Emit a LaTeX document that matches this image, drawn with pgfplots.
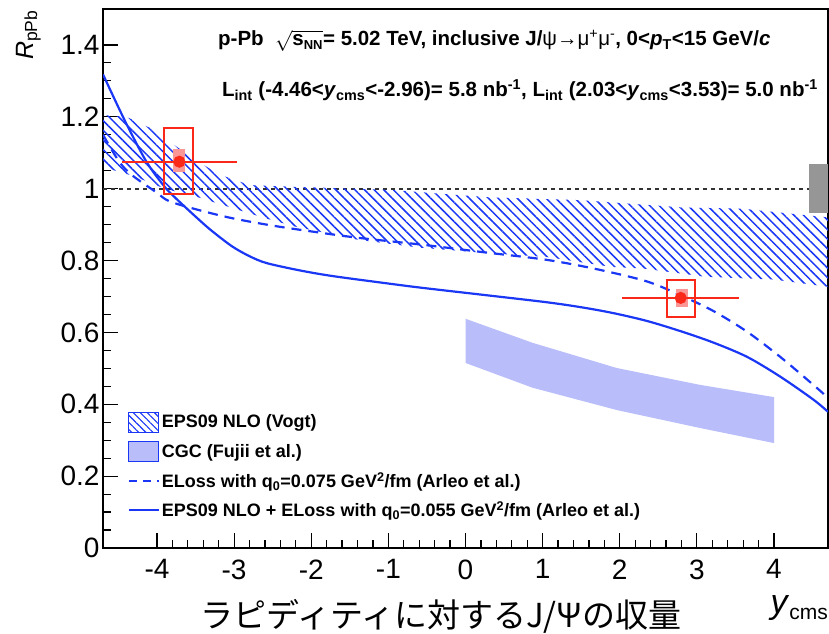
\documentclass[border=0pt]{standalone}
\usepackage{pgfplots}
\pgfplotsset{compat=1.18}
\usepackage{fontspec}
\setmainfont{Liberation Sans}
\newfontfamily\cjk{Noto Sans CJK JP}
\usetikzlibrary{patterns.meta}
\definecolor{lblue}{RGB}{25,55,245}
\definecolor{cgcfill}{RGB}{185,190,250}
\definecolor{rred}{RGB}{250,40,25}
\definecolor{rpink}{RGB}{250,150,150}
\definecolor{dgray}{RGB}{50,50,50}
\definecolor{gbox}{RGB}{150,150,150}

\begin{document}
\begin{tikzpicture}[x=1pt,y=1pt]
\useasboundingbox (0,0) rectangle (829,633);
\begin{axis}[
  at={(103pt,85pt)}, anchor=south west,
  scale only axis, width=725pt, height=539pt,
  xmin=-4.7, xmax=4.7, ymin=0, ymax=1.5,
  xtick={-4,-3,-2,-1,0,1,2,3,4}, minor x tick num=4,
  ytick={0,0.2,0.4,0.6,0.8,1,1.2,1.4}, minor y tick num=3,
  tick align=inside, tick pos=left,
  major tick length=15pt, minor tick length=8pt,
  every tick/.style={black, line width=1.2pt},
  axis line style={line width=1.3pt, black},
  tick label style={font=\fontsize{28}{28}\selectfont},
  xticklabel style={yshift=-8pt},
  /pgf/number format/assume math mode=true,
  legend style={at={(0.03,0.257)}, anchor=north west, draw=none, fill=none,
    font=\fontsize{18}{18}\selectfont\bfseries, row sep=8.5pt,
    nodes={inner sep=2pt}},
  legend cell align=left,
]
% dotted line at 1
\addplot[dgray, line width=2pt, dash pattern=on 4pt off 4pt, forget plot] coordinates {(-4.7,1) (4.45,1)};
% EPS09 NLO (Vogt) band
\addplot[pattern={Lines[angle=-45,distance=6.8pt,line width=1.5pt]}, pattern color=lblue, draw=none,
  legend image code/.code={\draw[pattern={Lines[angle=-45,distance=5pt,line width=1.1pt]}, pattern color=lblue, draw=lblue, line width=1pt] (0pt,-10pt) rectangle (30pt,10pt);}]
  coordinates {(-4.7,1.205) (-4.4,1.2) (-4.1,1.17) (-3.9,1.14) (-3.5,1.08) (-3.2,1.04) (-2.8,1.01) (-2.2,1.005) (-1.0,0.997) (0.3,0.976) (1.5,0.968) (2.8,0.948) (3.6,0.944) (4.7,0.92)
   (4.7,0.727) (4.0,0.747) (3.1,0.755) (2.3,0.778) (1.9,0.782) (1.05,0.81) (0.2,0.822) (-0.6,0.836) (-1.4,0.858) (-2.2,0.894) (-2.6,0.918) (-3.2,0.958) (-3.45,0.975) (-3.9,1.0) (-4.3,1.035) (-4.7,1.06)} -- cycle;
\addlegendentry{EPS09 NLO (Vogt)}
% CGC band
\addplot[fill=cgcfill, draw=none,
  legend image code/.code={\draw[fill=cgcfill, draw=lblue, line width=1pt] (0pt,-10pt) rectangle (30pt,10pt);}]
  coordinates {(0,0.638) (0.87,0.571) (1.96,0.501) (3.04,0.454) (4,0.42) (4,0.292) (3.04,0.334) (1.96,0.384) (0.87,0.446) (0,0.515)} -- cycle;
\addlegendentry{CGC (Fujii et al.)}
% ELoss dashed
\addplot[lblue, line width=2.2pt, dash pattern=on 10pt off 7pt, smooth,
  legend image code/.code={\draw[lblue, line width=2pt, dash pattern=on 8pt off 6pt] (0pt,0pt) -- (30pt,0pt);}]
  coordinates {(-4.7,1.15) (-4.49,1.075) (-4.32,1.037) (-4.01,0.99) (-3.84,0.965) (-3.45,0.94) (-3.03,0.918) (-2.58,0.9) (-2.16,0.886) (-1.42,0.864) (-0.56,0.844) (0.2,0.824) (1.05,0.802) (1.70,0.776) (2.35,0.742) (2.78,0.704) (3.21,0.66) (3.65,0.602) (4.08,0.532) (4.51,0.454) (4.7,0.418)};
\addlegendentry{ELoss with q\textsubscript{0}=0.075 GeV\textsuperscript{2}/fm (Arleo et al.)}
% EPS09 + ELoss solid
\addplot[lblue, line width=2.2pt, smooth,
  legend image code/.code={\draw[lblue, line width=2pt] (0pt,0pt) -- (30pt,0pt);}]
  coordinates {(-4.7,1.318) (-4.43,1.195) (-4.19,1.095) (-4.06,1.05) (-3.88,1.0) (-3.75,0.972) (-3.58,0.938) (-3.32,0.888) (-3.03,0.84) (-2.8,0.812) (-2.58,0.793) (-2.16,0.773) (-1.73,0.757) (-1.0,0.736) (-0.56,0.724) (0.25,0.704) (1.05,0.684) (1.5,0.670) (1.91,0.654) (2.35,0.632) (2.78,0.604) (3.21,0.572) (3.65,0.532) (4.08,0.477) (4.51,0.413) (4.7,0.379)};
\addlegendentry{EPS09 NLO + ELoss with q\textsubscript{0}=0.055 GeV\textsuperscript{2}/fm (Arleo et al.)}
% global gray box
\addplot[fill=gbox, draw=none, forget plot] coordinates {(4.45,0.933) (4.7,0.933) (4.7,1.07) (4.45,1.07)} -- cycle;
% backward data point
\addplot[fill=rpink, draw=none, forget plot] coordinates {(-3.79,1.045) (-3.64,1.045) (-3.64,1.111) (-3.79,1.111)} -- cycle;
\addplot[draw=rred, line width=2pt, forget plot] coordinates {(-3.91,0.984) (-3.53,0.984) (-3.53,1.17) (-3.91,1.17)} -- cycle;
\addplot[rred, line width=2pt, mark=*, mark size=5pt, mark options={fill=rred, draw=rred}, forget plot,
  error bars/.cd, x dir=both, x explicit, error mark=none, error bar style={line width=2pt, rred}]
  coordinates {(-3.71,1.075) +- (0.75,0)};
% forward data point
\addplot[fill=rpink, draw=none, forget plot] coordinates {(2.73,0.671) (2.88,0.671) (2.88,0.721) (2.73,0.721)} -- cycle;
\addplot[draw=rred, line width=2pt, forget plot] coordinates {(2.61,0.644) (2.97,0.644) (2.97,0.747) (2.61,0.747)} -- cycle;
\addplot[rred, line width=2pt, mark=*, mark size=5pt, mark options={fill=rred, draw=rred}, forget plot,
  error bars/.cd, x dir=both, x explicit, error mark=none, error bar style={line width=2pt, rred}]
  coordinates {(2.79,0.696) +- (0.76,0)};
\end{axis}
% annotations
\node[anchor=base west, inner sep=0pt, font=\fontsize{20.5}{20.5}\selectfont\bfseries] at (218,587)
  {p-Pb\ \ $\sqrt{\mbox{\bfseries s}_{\mbox{\bfseries\fontsize{13}{13}\selectfont NN}}}$= 5.02 TeV, inclusive J/{\mdseries ψ→μ\textsuperscript{+}μ\textsuperscript{-}}, 0<\textit{p}\textsubscript{T}<15 GeV/\textit{c}};
\node[anchor=base west, inner sep=0pt, font=\fontsize{20.5}{20.5}\selectfont\bfseries] at (222,536)
  {L\textsubscript{int} (-4.46<\textit{y}\textsubscript{cms}<-2.96)= 5.8 nb\textsuperscript{-1}, L\textsubscript{int} (2.03<\textit{y}\textsubscript{cms}<3.53)= 5.0 nb\textsuperscript{-1}};
% y label
\node[rotate=90, anchor=base east, inner sep=0pt, font=\fontsize{25}{25}\selectfont] at (33,623)
  {\textit{R}\textsubscript{pPb}};
% x label
\node[anchor=base east, inner sep=0pt] at (828,20)
  {\fontsize{34}{34}\selectfont\textit{y}\raisebox{-6pt}{\fontsize{21}{21}\selectfont cms}};
% Japanese title
\node[anchor=center, inner sep=0pt, font=\fontsize{33}{33}\selectfont\cjk] at (441,17)
  {ラピディティに対するJ/Ψの収量};
\end{tikzpicture}
\end{document}
